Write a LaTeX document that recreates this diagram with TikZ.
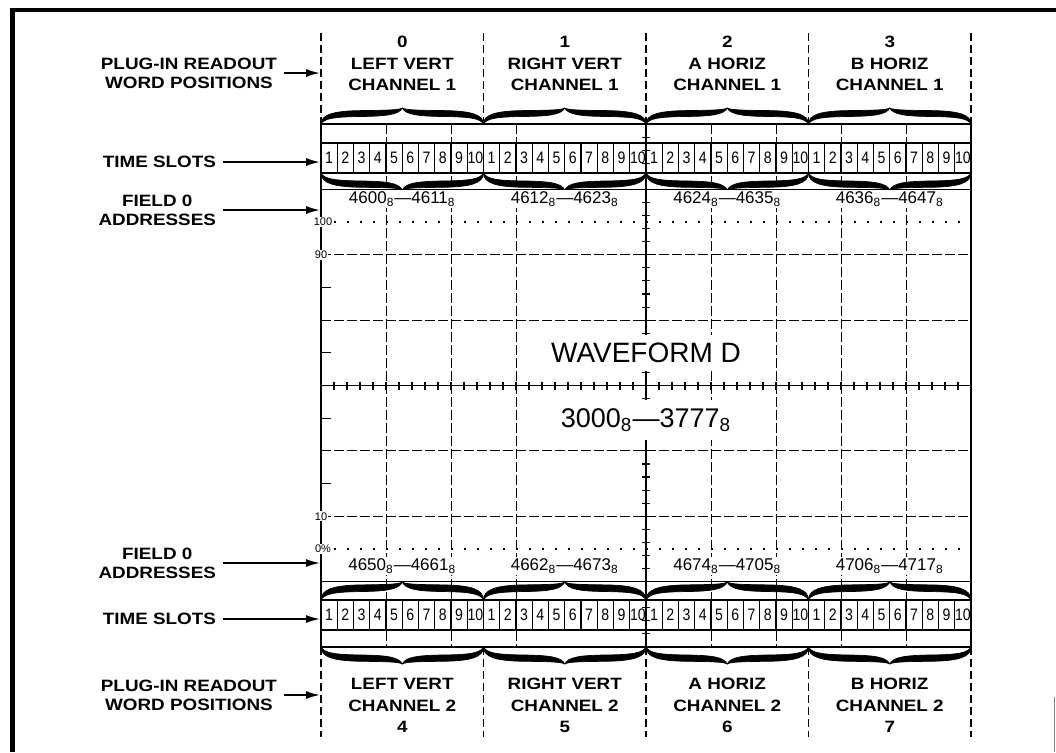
\documentclass[tikz,border=0pt]{standalone}
\usepackage{fontspec}
\setmainfont{Liberation Sans}
\newfontfamily\lblfont[FakeStretch=1.15]{Liberation Sans}
\newfontfamily\slotfont[FakeStretch=0.85]{Liberation Sans}
\usepackage{tikz}
\usetikzlibrary{arrows.meta,positioning,calc}

\begin{document}
\begin{tikzpicture}[
  x=0.5pt, y=-0.5pt,
  every node/.style={font=\fontsize{8.5}{10}\selectfont},
  lbl/.style={font=\lblfont\bfseries\fontsize{8.2}{10.75}\selectfont, align=center},
  side/.style={lbl, anchor=east, font=\lblfont\bfseries\fontsize{8.2}{9.6}\selectfont},
  slot/.style={draw, line width=0.6pt, minimum width=8.125pt, minimum height=15pt,
    inner sep=0pt, font=\slotfont\fontsize{8.3}{8}\selectfont},
  addr/.style={fill=white, inner sep=1pt},
  big/.style={fill=white, inner sep=4pt, font=\fontsize{14}{16}\selectfont},
  scl/.style={fill=white, inner sep=0.6pt, font=\fontsize{5.5}{6}\selectfont},
  arr/.style={-{Latex[length=7pt,width=4pt]}, line width=0.8pt},
  bound/.style={dash pattern=on 4pt off 2pt, line width=0.7pt},
  grat/.style={dash pattern=on 5pt off 1.5pt, line width=0.45pt},
  edge/.style={line width=0.55pt},
  dotrow/.style={dash pattern=on 0.9pt off 5.6pt, line width=0.9pt},
  wbrace/.pic={
    \fill[draw, line width=0.35pt]
      (0,0) .. controls (0,0.6) and (0.08,0.82) .. (0.25,0.84)
      .. controls (0.42,0.86) and (0.48,0.88) .. (0.5,1)
      .. controls (0.52,0.88) and (0.58,0.86) .. (0.75,0.84)
      .. controls (0.92,0.82) and (1,0.6) .. (1,0)
      .. controls (0.98,0.35) and (0.92,0.45) .. (0.75,0.47)
      .. controls (0.6,0.49) and (0.52,0.58) .. (0.5,1)
      .. controls (0.48,0.58) and (0.4,0.49) .. (0.25,0.47)
      .. controls (0.08,0.45) and (0.02,0.35) .. (0,0) -- cycle;
  }
]
\useasboundingbox (0,0) rectangle (1056,752);

% frame
\draw[line width=2.2pt] (12.5,752) -- (12.5,10) -- (1056,10);
\draw[line width=0.5pt, gray] (1054,697) -- (1054,752);

% graticule
\foreach \k in {1,2,3,5,6,7,8,9}
  \draw[grat] ({321+65*\k},124) -- ({321+65*\k},647);
\foreach \k in {2,3,5,6}
  \draw[grat] (321,{124+65.375*\k}) -- (971,{124+65.375*\k});
\draw[edge] (321,124) rectangle (971,647);
\draw[edge] (646,124) -- (646,647);
\draw[edge] (321,189.4) -- (971,189.4);
\draw[edge] (321,385.5) -- (971,385.5);
\draw[edge] (321,581.6) -- (971,581.6);
\foreach \i in {1,...,49}
  \draw[edge] ({321+13*\i},381.5) -- ++(0,8);
\foreach \j in {1,...,39}
  \draw[edge] (642,{124+13.075*\j}) -- ++(8,0);
\foreach \y in {287.5,352.8,418.2,483.6}
  \draw[edge] (321,\y) -- ++(10,0);
\draw[dotrow] (334,222.1) -- (965,222.1);
\draw[dotrow] (334,548.9) -- (965,548.9);

% word boundaries
\foreach \x in {321,483.5,646,808.5,971} {
  \draw[bound] (\x,33) -- (\x,124);
  \draw[bound] (\x,647) -- (\x,737);
}

% braces
\foreach \w in {0,...,3} {
  \pic[shift={({321+162.5*\w},124)}, xscale=162.5, yscale=-16] {wbrace};
  \pic[shift={({321+162.5*\w},173)}, xscale=162.5, yscale=17] {wbrace};
  \pic[shift={({321+162.5*\w},600)}, xscale=162.5, yscale=-18] {wbrace};
  \pic[shift={({321+162.5*\w},647)}, xscale=162.5, yscale=17] {wbrace};
}

% time slots
\foreach \w in {0,...,3}
  \foreach \s in {1,...,10} {
    \node[slot] (ut\w\s) at ({321+162.5*\w+16.25*\s-8.125},158) {\s};
    \node[slot] (lt\w\s) at ({321+162.5*\w+16.25*\s-8.125},615) {\s};
  }

% scale marks
\node[scl] (s100) at (323,222.1) {100};
\node[scl] (s90) at (321,254.8) {90};
\node[scl] (s10) at (321,516.3) {10};
\node[scl] (s0) at (323,548.9) {0\%};

% addresses
\foreach \w/\a/\b in {0/4600/4611, 1/4612/4623, 2/4624/4635, 3/4636/4647}
  \node[addr] (fa\w) at ({402.25+162.5*\w},199) {\a\textsubscript{8}---\b\textsubscript{8}};
\foreach \w/\a/\b in {0/4650/4661, 1/4662/4673, 2/4674/4705, 3/4706/4717}
  \node[addr] (fb\w) at ({402.25+162.5*\w},566) {\a\textsubscript{8}---\b\textsubscript{8}};

\node[big] (wf) at (646,353) {WAVEFORM D};
\node[big, font=\fontsize{13.5}{15}\selectfont] (wfaddr) at (646,420)
  {3000\textsubscript{8}---3777\textsubscript{8}};

% word positions
\foreach \w/\n/\t in {0/0/LEFT VERT, 1/1/RIGHT VERT, 2/2/A HORIZ, 3/3/B HORIZ}
  \node[lbl] (hd\w) at ({402.25+162.5*\w},63.5) {\n\\\t\\CHANNEL 1};
\foreach \w/\n/\t in {0/4/LEFT VERT, 1/5/RIGHT VERT, 2/6/A HORIZ, 3/7/B HORIZ}
  \node[lbl] (ft\w) at ({402.25+162.5*\w},705.5) {\t\\CHANNEL 2\\\n};

% side labels
\node[side] (pwTop) at (284,73) {PLUG-IN READOUT\\WORD POSITIONS};
\node[side] (tsTop) at (223,162) {TIME SLOTS};
\node[side] (faTop) at (223,210) {FIELD 0\\ADDRESSES};
\node[side] (faBot) at (223,563) {FIELD 0\\ADDRESSES};
\node[side] (tsBot) at (223,619) {TIME SLOTS};
\node[side] (pwBot) at (284,695) {PLUG-IN READOUT\\WORD POSITIONS};

\coordinate (pwTopTip) at (320,73);
\coordinate (tsTopTip) at (320,162);
\coordinate (faTopTip) at (320,210);
\coordinate (faBotTip) at (320,563);
\coordinate (tsBotTip) at (320,619);
\coordinate (pwBotTip) at (320,695);

\draw[arr] (pwTop) -- (pwTopTip);
\draw[arr] (tsTop) -- (tsTopTip);
\draw[arr] (faTop) -- (faTopTip);
\draw[arr] (faBot) -- (faBotTip);
\draw[arr] (tsBot) -- (tsBotTip);
\draw[arr] (pwBot) -- (pwBotTip);
\end{tikzpicture}
\end{document}
